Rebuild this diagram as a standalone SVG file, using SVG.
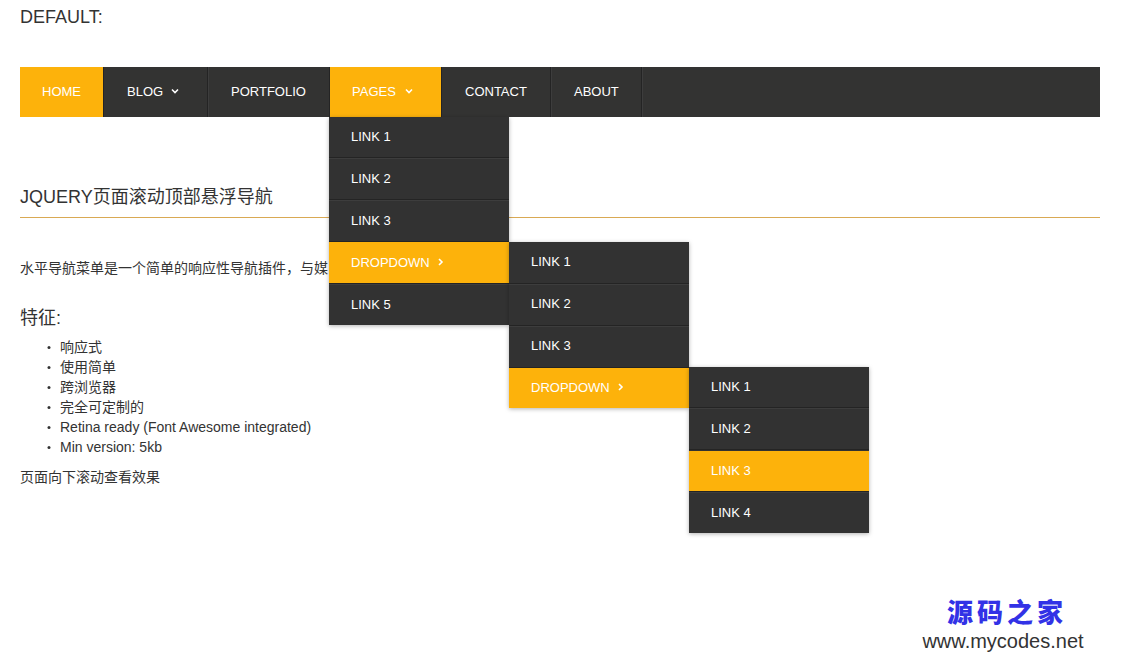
<svg xmlns="http://www.w3.org/2000/svg" width="1121" height="654" viewBox="0 0 1121 654">
<style>
.dark{fill:#333332}
.hot{fill:#fdb20b}
.nt{font-family:"Liberation Sans",Arial,sans-serif;font-size:13px;fill:#ffffff}
.body{font-family:"Liberation Sans","Noto Sans CJK SC",sans-serif;fill:#333333}
.sepd{stroke:#242424;stroke-width:1}
.sepl{stroke:#3d3d3d;stroke-width:1}
.chev{fill:none;stroke:#ffffff;stroke-width:1.6}
</style>
<defs>
<filter id="sh" x="-10%" y="-10%" width="120%" height="130%">
<feDropShadow dx="0" dy="1" stdDeviation="2" flood-color="#000" flood-opacity="0.3"/>
</filter>
</defs>
<rect width="1121" height="654" fill="#ffffff"/>

<g id="page-text">
<text class="body" x="20" y="23" font-size="18">DEFAULT:</text>
<text class="body" x="20" y="203" font-size="18">JQUERY页面滚动顶部悬浮导航</text>
<line x1="20" y1="217.5" x2="1100" y2="217.5" stroke="#d9a954" stroke-width="1"/>
<text class="body" x="20" y="273" font-size="14">水平导航菜单是一个简单的响应性导航插件，与媒</text>
<text class="body" x="20" y="324" font-size="18">特征:</text>
<g font-size="14">
<circle cx="49" cy="347.5" r="1.5" fill="#333"/><text class="body" x="60" y="352">响应式</text>
<circle cx="49" cy="367.5" r="1.5" fill="#333"/><text class="body" x="60" y="372">使用简单</text>
<circle cx="49" cy="387.5" r="1.5" fill="#333"/><text class="body" x="60" y="392">跨浏览器</text>
<circle cx="49" cy="407.5" r="1.5" fill="#333"/><text class="body" x="60" y="412">完全可定制的</text>
<circle cx="49" cy="427.5" r="1.5" fill="#333"/><text class="body" x="60" y="432">Retina ready (Font Awesome integrated)</text>
<circle cx="49" cy="447.5" r="1.5" fill="#333"/><text class="body" x="60" y="452">Min version: 5kb</text>
</g>
<text class="body" x="20" y="482" font-size="14">页面向下滚动查看效果</text>
</g>

<g id="navbar">
<rect class="dark" x="20" y="67" width="1080" height="50"/>
<g id="nav-home"><rect class="hot" x="20" y="67" width="83" height="50"/><text class="nt" x="42" y="95.5">HOME</text></g>
<line class="sepd" x1="103.5" y1="67" x2="103.5" y2="117"/>
<g id="nav-blog"><text class="nt" x="127" y="95.5">BLOG</text><path class="chev" d="M172,89.5 L175,92.5 L178,89.5"/></g>
<line class="sepd" x1="207.5" y1="67" x2="207.5" y2="117"/><line class="sepl" x1="208.5" y1="67" x2="208.5" y2="117"/>
<g id="nav-portfolio"><text class="nt" x="231" y="95.5">PORTFOLIO</text></g>
<line class="sepd" x1="329.5" y1="67" x2="329.5" y2="117"/>
<g id="nav-pages"><rect class="hot" x="330" y="67" width="111" height="50"/><text class="nt" x="352" y="95.5">PAGES</text><path class="chev" d="M406,89.5 L409,92.5 L412,89.5"/></g>
<line class="sepd" x1="441.5" y1="67" x2="441.5" y2="117"/>
<g id="nav-contact"><text class="nt" x="465" y="95.5">CONTACT</text></g>
<line class="sepd" x1="550.5" y1="67" x2="550.5" y2="117"/><line class="sepl" x1="551.5" y1="67" x2="551.5" y2="117"/>
<g id="nav-about"><text class="nt" x="574" y="95.5">ABOUT</text></g>
<line class="sepd" x1="641.5" y1="67" x2="641.5" y2="117"/><line class="sepl" x1="642.5" y1="67" x2="642.5" y2="117"/>
</g>

<g id="dropdown-1">
<rect class="dark" x="329" y="117" width="180" height="208" filter="url(#sh)"/>
<rect class="hot" x="329" y="242" width="180" height="41"/>
<g class="seps">
<line class="sepd" x1="329" y1="157.5" x2="509" y2="157.5"/><line class="sepl" x1="329" y1="158.5" x2="509" y2="158.5"/>
<line class="sepd" x1="329" y1="199.5" x2="509" y2="199.5"/><line class="sepl" x1="329" y1="200.5" x2="509" y2="200.5"/>
<line class="sepd" x1="329" y1="241.5" x2="509" y2="241.5"/>
<line class="sepd" x1="329" y1="283.5" x2="509" y2="283.5"/><line class="sepl" x1="329" y1="284.5" x2="509" y2="284.5"/>
</g>
<text class="nt" x="351" y="141">LINK 1</text>
<text class="nt" x="351" y="183">LINK 2</text>
<text class="nt" x="351" y="225">LINK 3</text>
<text class="nt" x="351" y="267">DROPDOWN</text>
<path class="chev" d="M439,259 L442,262 L439,265"/>
<text class="nt" x="351" y="309">LINK 5</text>
</g>

<g id="dropdown-2">
<rect class="dark" x="509" y="242" width="180" height="166" filter="url(#sh)"/>
<rect class="hot" x="509" y="368" width="180" height="40"/>
<line class="sepd" x1="509" y1="283.5" x2="689" y2="283.5"/><line class="sepl" x1="509" y1="284.5" x2="689" y2="284.5"/>
<line class="sepd" x1="509" y1="325.5" x2="689" y2="325.5"/><line class="sepl" x1="509" y1="326.5" x2="689" y2="326.5"/>
<line class="sepd" x1="509" y1="367.5" x2="689" y2="367.5"/>
<text class="nt" x="531" y="266">LINK 1</text>
<text class="nt" x="531" y="308">LINK 2</text>
<text class="nt" x="531" y="350">LINK 3</text>
<text class="nt" x="531" y="392">DROPDOWN</text>
<path class="chev" d="M619,384 L622,387 L619,390"/>
</g>

<g id="dropdown-3">
<rect class="dark" x="689" y="367" width="180" height="166" filter="url(#sh)"/>
<rect class="hot" x="689" y="451" width="180" height="40"/>
<line class="sepd" x1="689" y1="407.5" x2="869" y2="407.5"/><line class="sepl" x1="689" y1="408.5" x2="869" y2="408.5"/>
<line class="sepd" x1="689" y1="449.5" x2="869" y2="449.5"/>
<line class="sepd" x1="689" y1="491.5" x2="869" y2="491.5"/><line class="sepl" x1="689" y1="492.5" x2="869" y2="492.5"/>
<text class="nt" x="711" y="391">LINK 1</text>
<text class="nt" x="711" y="433">LINK 2</text>
<text class="nt" x="711" y="475">LINK 3</text>
<text class="nt" x="711" y="517">LINK 4</text>
</g>

<g id="watermark">
<text x="1007" y="622" text-anchor="middle" font-family="'Noto Sans CJK SC',sans-serif" font-weight="900" font-size="26" fill="#3232e6" letter-spacing="4">源码之家</text>
<text x="1003" y="648" text-anchor="middle" font-family="'Liberation Sans',Arial,sans-serif" font-size="20" fill="#333333">www.mycodes.net</text>
</g>
</svg>
